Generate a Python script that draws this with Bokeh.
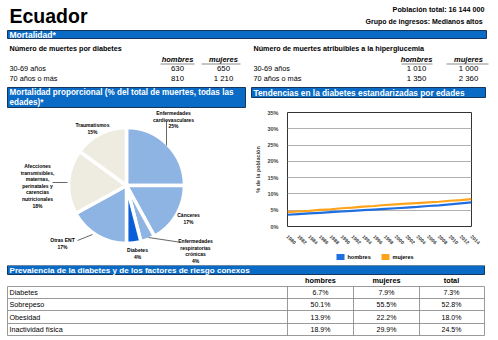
import numpy as np
from bokeh.plotting import figure
from bokeh.layouts import column, row
from bokeh.models import (Range1d, FixedTicker, PrintfTickFormatter, ColumnDataSource)
from bokeh.core.properties import value
from bokeh.embed import file_html
from bokeh.resources import INLINE

# ---------------- data ----------------
country = "Ecuador"
population = "16 144 000"
income_group = "Medianos altos"

age_groups = ["30-69 años", "70 años o más"]
diab_deaths_men = ["630", "810"]
diab_deaths_women = ["650", "1 210"]
hyper_deaths_men = ["1 010", "1 350"]
hyper_deaths_women = ["1 000", "2 360"]

causes = ["Enfermedades\ncardiovasculares", "Cánceres", "Enfermedades\nrespiratorias\ncrónicas",
          "Diabetes", "Otras ENT",
          "Afecciones\ntransmisibles,\nmaternas,\nperinatales y\ncarencias\nnutricionales",
          "Traumatismos"]
cause_pct = [25, 17, 4, 4, 17, 18, 15]
cause_colors = ["#8EB4E3", "#8EB4E3", "#8EB4E3", "#0B5ED7", "#8EB4E3", "#EEECE1", "#EEECE1"]

years = [1980, 1982, 1984, 1986, 1988, 1990, 1992, 1994, 1996, 1998,
         2000, 2002, 2004, 2006, 2008, 2010, 2012, 2014]
men_trend = [3.6, 3.8, 4.0, 4.2, 4.4, 4.6, 4.8, 5.0, 5.2, 5.4,
             5.6, 5.8, 6.0, 6.3, 6.5, 6.8, 7.1, 7.4]
women_trend = [4.4, 4.6, 4.8, 5.1, 5.3, 5.6, 5.8, 6.1, 6.3, 6.6,
               6.8, 7.0, 7.2, 7.4, 7.6, 7.9, 8.1, 8.4]
series_names = ["hombres", "mujeres"]

risk_factors = ["Diabetes", "Sobrepeso", "Obesidad", "Inactividad física"]
risk_men = ["6.7%", "50.1%", "13.9%", "18.9%"]
risk_women = ["7.9%", "55.5%", "22.2%", "29.9%"]
risk_total = ["7.3%", "52.8%", "18.0%", "24.5%"]

# ---------------- style ----------------
FONT = "Liberation Sans"
BAR = "#0A6BC6"
BAR_EDGE = "#17365D"
LINE_BLUE = "#1F6FE0"
LINE_ORANGE = "#FFA31A"


def canvas(w, h, x0, y0):
    p = figure(width=w, height=h, x_range=Range1d(x0, x0 + w), y_range=Range1d(y0 + h, y0),
               output_backend="svg", toolbar_location=None, min_border=0,
               x_axis_location=None, y_axis_location=None)
    p.grid.visible = False
    p.outline_line_color = None
    p.background_fill_color = "white"
    p.border_fill_color = "white"
    return p


def txt(p, x, y, t, size, bold=True, color="black", align="left", baseline="middle",
        italic=False, line_height=1.2):
    style = "bold" if bold else "normal"
    if italic:
        style = "bold italic" if bold else "italic"
    p.text(x=[x], y=[y], text=[t], text_font=value(FONT), text_font_size=f"{size}px",
           text_font_style=style, text_color=color, text_align=align,
           text_baseline=baseline, text_line_height=line_height)


def bar(p, l, r, t, b):
    p.quad(left=[l], right=[r], top=[t], bottom=[b], fill_color=BAR,
           line_color=BAR_EDGE, line_width=1)


# ---------------- top ----------------
top = canvas(498, 86, 0, 0)
txt(top, 9, 15.5, country, 19.5)
txt(top, 484, 9, "Población total: " + population, 7.2, align="right")
txt(top, 484, 21, "Grupo de ingresos:  " + income_group, 7.0, align="right")
bar(top, 7, 486, 30, 38)
txt(top, 9, 34, "Mortalidad*", 8.5, color="white")

for x0, title, cols, men, women, ul in [
        (9, "Número de muertes por diabetes", (177, 223), diab_deaths_men, diab_deaths_women,
         ((160, 194), (201, 240))),
        (253, "Número de muertes atribuibles a la hiperglucemia", (416, 468),
         hyper_deaths_men, hyper_deaths_women, ((401, 432), (446, 488)))]:
    txt(top, x0, 48, title, 7.2)
    txt(top, cols[0], 59, "hombres", 7.5, italic=True, align="center")
    txt(top, cols[1], 59, "mujeres", 7.5, italic=True, align="center")
    top.segment(x0=[ul[0][0], ul[1][0]], x1=[ul[0][1], ul[1][1]], y0=[63.5, 63.5],
                y1=[63.5, 63.5], line_color="#8c8c8c", line_width=1.2)
    for i, ag in enumerate(age_groups):
        yc = 68 + 10.3 * i
        txt(top, x0, yc, ag, 7.3, bold=False)
        txt(top, cols[0], yc, men[i], 7.8, bold=False, align="center")
        txt(top, cols[1], yc, women[i], 7.8, bold=False, align="center")

# ---------------- middle left: pie ----------------
left = canvas(250, 179, 0, 86)
bar(left, 7, 245, 87, 107)
txt(left, 9, 92, "Mortalidad proporcional (% del total de muertes, todas las", 8.15, color="white")
txt(left, 9, 101.5, "edades)*", 8.15, color="white")

frac = np.array(cause_pct, dtype=float) / np.sum(cause_pct)
cum = np.concatenate([[0], np.cumsum(frac)])
starts = np.pi / 2 - 2 * np.pi * cum[:-1]
ends = np.pi / 2 - 2 * np.pi * cum[1:]
pie_src = ColumnDataSource(dict(start=starts, end=ends, color=cause_colors))
left.wedge(x=126, y=185, radius=58, radius_units="screen", start_angle="start",
           end_angle="end", direction="clock", fill_color="color", line_color="white",
           line_width=3.5, source=pie_src)

# label anchors (layout)
label_pos = [(173, 109.5), (188, 211.5), (195, 237.5), (137, 246.5), (62, 236.5),
             (37, 162.5), (92, 121.5)]
for (lx, ly), c, pct in zip(label_pos, causes, cause_pct):
    txt(left, lx, ly, c + "\n" + f"{pct}%", 5, align="center", baseline="top",
        line_height=1.1)
left.segment(x0=[166, 148, 77, 52], y0=[120, 237, 240, 182],
             x1=[166, 178, 92, 67], y1=[145, 241.5, 234, 182],
             line_color="black", line_width=0.6)

# ---------------- middle right: trend ----------------
rtitle = canvas(248, 20, 250, 86)
bar(rtitle, 251, 485, 87, 97)
txt(rtitle, 253, 92, "Tendencias en la diabetes estandarizadas por edades", 8.3, color="white")

ch = figure(width=248, height=143, x_range=Range1d(1980, 2014), y_range=Range1d(0, 35),
            output_backend="svg", toolbar_location=None,
            min_border_left=37, min_border_right=27, min_border_top=6, min_border_bottom=21)
ch.background_fill_color = "white"
ch.border_fill_color = "white"
ch.line(years, women_trend, line_color=LINE_ORANGE, line_width=2.2)
ch.line(years, men_trend, line_color=LINE_BLUE, line_width=2.2)
ch.yaxis.ticker = FixedTicker(ticks=[0, 5, 10, 15, 20, 25, 30, 35])
ch.yaxis.formatter = PrintfTickFormatter(format="%d%%")
ch.xaxis.ticker = FixedTicker(ticks=years)
ch.xaxis.major_label_orientation = -np.pi / 4
ch.xgrid.visible = False
ch.ygrid.grid_line_color = "#b0b0b0"
ch.ygrid.grid_line_width = 1
ch.outline_line_color = "#333333"
ch.outline_line_width = 1
for ax in (ch.xaxis[0], ch.yaxis[0]):
    ax.axis_line_color = None
    ax.major_tick_line_color = None
    ax.minor_tick_line_color = None
    ax.major_label_text_font = FONT
    ax.major_label_text_font_style = "bold"
    ax.major_label_text_font_size = "5.5px"
    ax.major_label_standoff = 3
ch.xaxis.major_label_text_font_size = "5px"
ch.yaxis.axis_label = "% de la población"
ch.yaxis.axis_label_text_font = FONT
ch.yaxis.axis_label_text_font_style = "bold"
ch.yaxis.axis_label_text_font_size = "5.5px"
ch.yaxis.axis_label_standoff = 3

# legend strip
legc = canvas(248, 16, 250, 249)
leg_x = [336, 381]
legc.rect(x=[lx + 4 for lx in leg_x], y=[256.5, 256.5], width=8, height=6,
          fill_color=[LINE_BLUE, LINE_ORANGE], line_color=None)
for lx, nm in zip(leg_x, series_names):
    txt(legc, lx + 11, 256.5, nm, 5.5)

# ---------------- bottom: table ----------------
bot = canvas(498, 75, 0, 265)
bar(bot, 7, 484, 265, 274)
txt(bot, 9, 269.5, "Prevalencia de la diabetes y de los factores de riesgo conexos", 8.1,
    color="white")
col_x = [320, 386, 451]
for cx, h in zip(col_x, ["hombres", "mujeres", "total"]):
    txt(bot, cx, 280, h, 7.3, align="center")
row_lines = [286, 298, 310, 323, 335]
bot.segment(x0=[7] * 5, x1=[484] * 5, y0=row_lines, y1=row_lines,
            line_color="#808080", line_width=0.8)
vx = [7, 287, 353, 419, 484]
bot.segment(x0=vx, x1=vx, y0=[286] * 5, y1=[335] * 5, line_color="#808080", line_width=0.8)
for i, rf in enumerate(risk_factors):
    yc = (row_lines[i] + row_lines[i + 1]) / 2
    txt(bot, 9, yc, rf, 7.2, bold=False)
    for cx, v in zip(col_x, [risk_men[i], risk_women[i], risk_total[i]]):
        txt(bot, cx, yc, v, 7.0, bold=False, align="center")

right = column(row(rtitle), row(ch), row(legc), spacing=0)
layout = column(top, row(left, right, spacing=0), bot, spacing=0)
open("out.html", "w").write(file_html(layout, INLINE))
